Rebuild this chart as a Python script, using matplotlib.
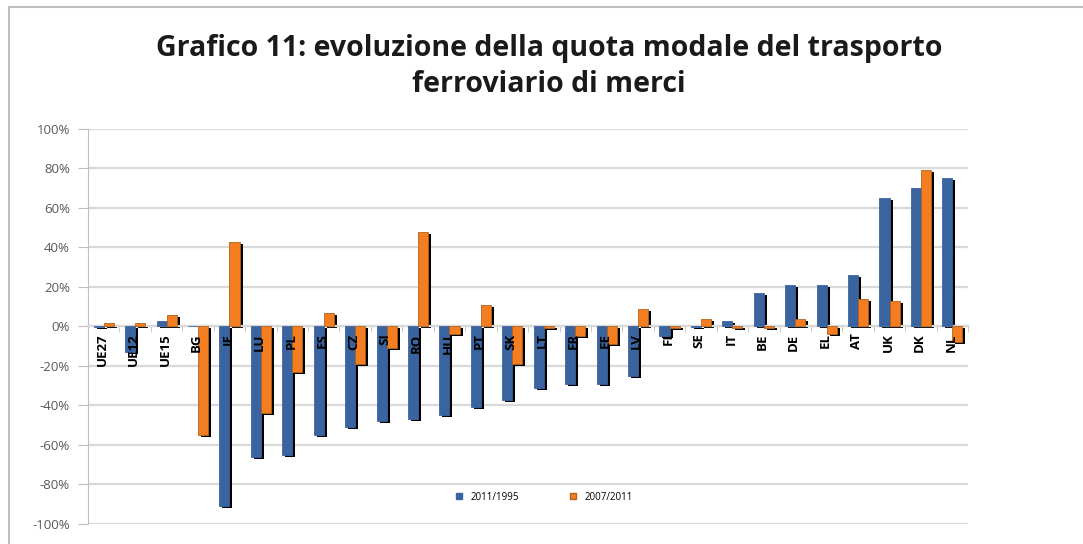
import matplotlib
matplotlib.use("Agg")
import matplotlib.pyplot as plt
import matplotlib.transforms as mtransforms
from matplotlib.ticker import FuncFormatter, MultipleLocator
import numpy as np

paesi = ["UE27", "UE12", "UE15", "BG", "IE", "LU", "PL", "ES", "CZ", "SI", "RO",
         "HU", "PT", "SK", "LT", "FR", "EE", "LV", "FI", "SE", "IT", "BE", "DE",
         "EL", "AT", "UK", "DK", "NL"]
# variazione quota modale (%)
v_2011_1995 = [-0.5, -13, 3, 0, -91, -66, -65, -55, -51, -48, -47, -45, -41, -37,
               -31, -29, -29, -25, -5, -0.5, 3, 17, 21, 21, 26, 65, 70, 75]
v_2007_2011 = [2, 1.5, 6, -55, 43, -44, -23, 7, -19, -11, 48, -4, 11, -19, -1,
               -5, -9, 9, -1, 4, -1, -1, 4, -4, 14, 13, 79, -8]
serie = ["2011/1995", "2007/2011"]

BLU = "#3a64a0"
ARANCIO = "#f47d22"

fig = plt.figure(figsize=(10.83, 5.44), dpi=100)
fig.patches.append(plt.Rectangle((0.0083, -0.05), 1.1, 1.037, transform=fig.transFigure,
                                 fill=False, edgecolor="#bfbfbf", lw=1.5))
ax = fig.add_axes([0.0813, 0.0368, 0.8126, 0.7262])

x = np.arange(len(paesi))
w = 0.32
ombra = mtransforms.offset_copy(ax.transData, fig=fig, x=3, y=-2, units="dots")
for vals, dx, col, ec in [(v_2011_1995, -w / 2, BLU, BLU), (v_2007_2011, w / 2, ARANCIO, "#b0651e")]:
    ax.bar(x + dx, vals, w, color="black", transform=ombra, zorder=2)
    ax.bar(x + dx, vals, w, color=col, edgecolor=ec, lw=0.6, zorder=3)

ax.set_xlim(-0.5, len(paesi) - 0.5)
ax.set_ylim(-100, 100)
ax.yaxis.set_major_locator(MultipleLocator(20))
ax.yaxis.set_major_formatter(FuncFormatter(lambda v, p: f"{v:.0f}%"))
ax.grid(axis="y", color="#d9d9d9", lw=1.6, zorder=0)
ax.set_axisbelow(True)

for s in ["top", "right"]:
    ax.spines[s].set_visible(False)
ax.spines["left"].set_color("#bfbfbf")
ax.spines["bottom"].set_position(("data", 0))
ax.spines["bottom"].set_color("#d9d9d9")
ax.spines["bottom"].set_linewidth(1.6)
ax.tick_params(axis="y", length=7, color="#bfbfbf", labelsize=9.5, labelcolor="#595959", pad=6)
ax.set_xticks([])
ax.set_xticks(np.arange(len(paesi) + 1) - 0.5, minor=True)
ax.tick_params(axis="x", which="minor", length=4, color="#bfbfbf")
for lab in ax.get_yticklabels():
    lab.set_family("Open Sans")

for i, p in enumerate(paesi):
    ax.text(i - 0.05, -3.5, p, rotation=90, ha="center", va="top", fontsize=9.5,
            fontweight="bold", family="Open Sans", zorder=5)

h1 = plt.Line2D([], [], ls="", marker="s", ms=5, mfc=BLU, mec=BLU)
h2 = plt.Line2D([], [], ls="", marker="s", ms=5, mfc=ARANCIO, mec="#b0651e")
ax.legend([h1, h2], serie, loc="center", bbox_to_anchor=(0.515, 0.068), ncol=2,
          frameon=False, handletextpad=0.2, columnspacing=4.5,
          prop={"family": "Open Sans", "size": 7})

fig.suptitle("Grafico 11: evoluzione della quota modale del trasporto\nferroviario di merci",
             x=0.507, y=0.937, fontsize=20.5, fontweight="bold", family="Open Sans",
             linespacing=1.3, color="#1a1a1a")

fig.savefig("out.png", dpi=100)
